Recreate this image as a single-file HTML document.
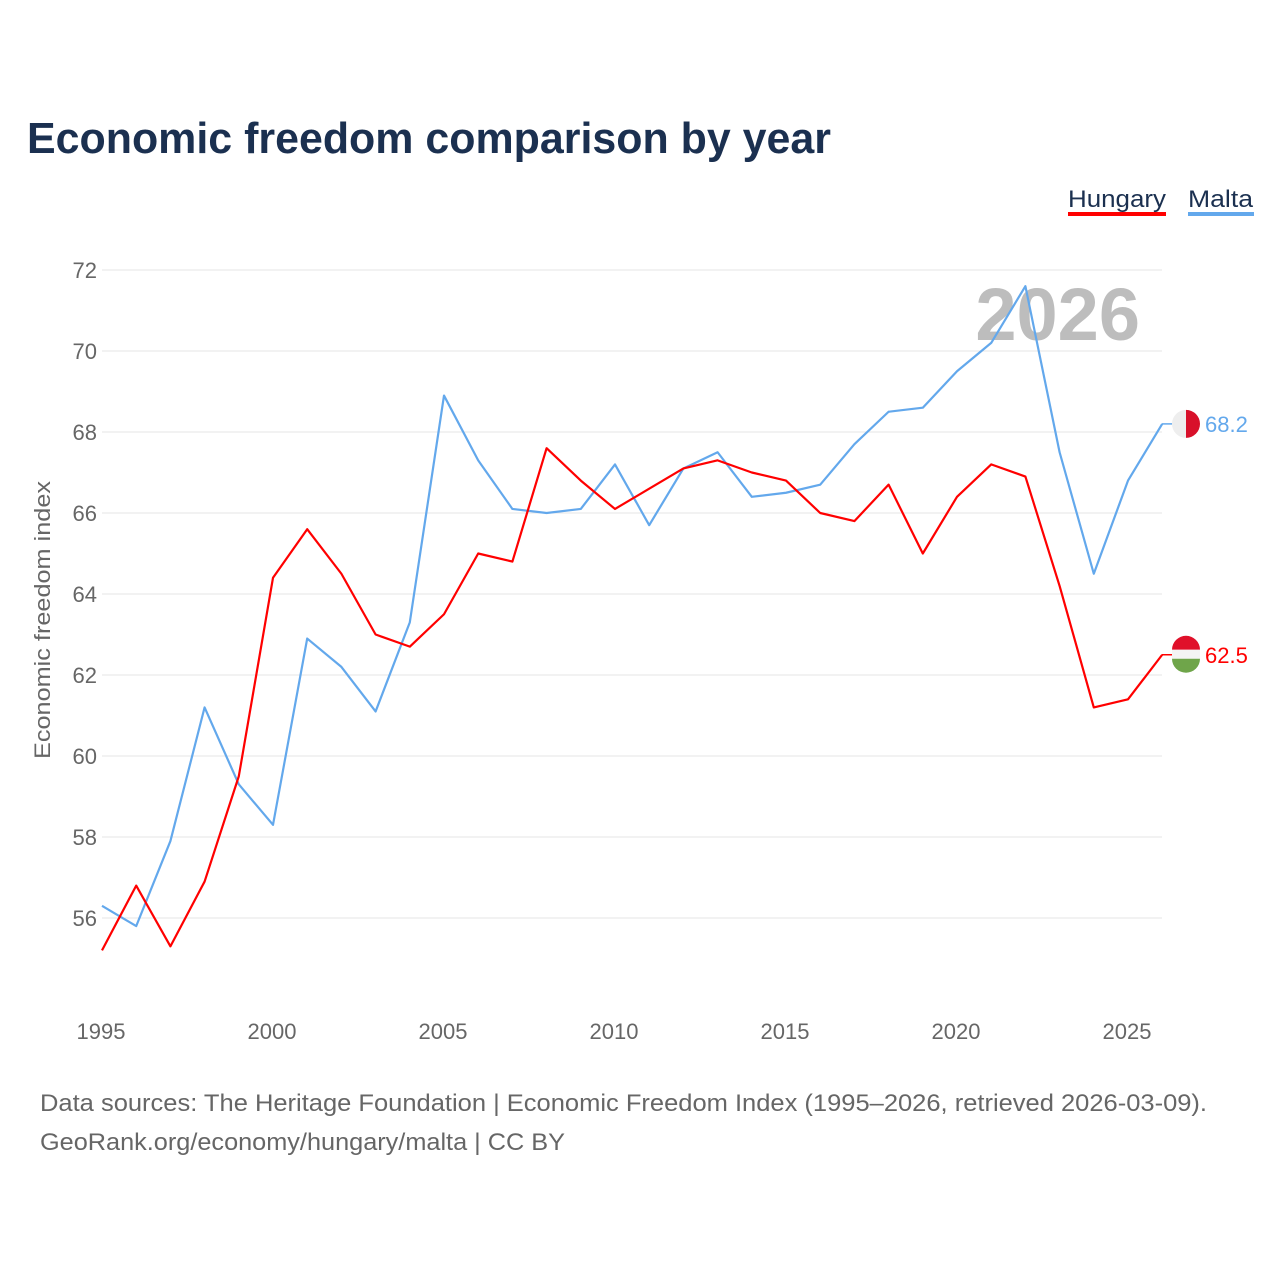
<!DOCTYPE html>
<html><head><meta charset="utf-8">
<style>
body{margin:0;background:#fff;font-family:"Liberation Sans",sans-serif;}
#wrap{position:relative;width:1280px;height:1280px;overflow:hidden;}
</style></head>
<body><div id="wrap">
<svg id="chart" width="1280" height="1280">
<text x="27" y="153" font-size="44" font-weight="bold" fill="#1b3050" textLength="804" lengthAdjust="spacingAndGlyphs">Economic freedom comparison by year</text>
<g>
<text x="1068" y="207" font-size="24" fill="#1b3050" textLength="98" lengthAdjust="spacingAndGlyphs">Hungary</text>
<rect x="1068" y="212" width="98" height="4" fill="#ff0000"/>
<text x="1188" y="207" font-size="24" fill="#1b3050" textLength="65" lengthAdjust="spacingAndGlyphs">Malta</text>
<rect x="1188" y="212" width="66" height="4" fill="#63a8ec"/>
</g>
<g id="grid"></g>
<g id="yticks"></g>
<g id="xticks"></g>
<text x="1140" y="340" text-anchor="end" font-size="74" font-weight="bold" fill="#bdbdbd">2026</text>
<text transform="translate(50,620) rotate(-90)" text-anchor="middle" font-size="22" fill="#666" textLength="278" lengthAdjust="spacingAndGlyphs">Economic freedom index</text>
<g id="series"></g>
<text x="40" y="1111" font-size="24" fill="#666" textLength="1167" lengthAdjust="spacingAndGlyphs">Data sources: The Heritage Foundation | Economic Freedom Index (1995–2026, retrieved 2026-03-09).</text>
<text x="40" y="1150" font-size="24" fill="#666" textLength="525" lengthAdjust="spacingAndGlyphs">GeoRank.org/economy/hungary/malta | CC BY</text>
</svg>
</div>
<script>
const years=[1995,1996,1997,1998,1999,2000,2001,2002,2003,2004,2005,2006,2007,2008,2009,2010,2011,2012,2013,2014,2015,2016,2017,2018,2019,2020,2021,2022,2023,2024,2025,2026];
const hungary=[55.2,56.8,55.3,56.9,59.5,64.4,65.6,64.5,63.0,62.7,63.5,65.0,64.8,67.6,66.8,66.1,66.6,67.1,67.3,67.0,66.8,66.0,65.8,66.7,65.0,66.4,67.2,66.9,64.2,61.2,61.4,62.5];
const malta=[56.3,55.8,57.9,61.2,59.3,58.3,62.9,62.2,61.1,63.3,68.9,67.3,66.1,66.0,66.1,67.2,65.7,67.1,67.5,66.4,66.5,66.7,67.7,68.5,68.6,69.5,70.2,71.6,67.5,64.5,66.8,68.2];
const yTicks=[56,58,60,62,64,66,68,70,72];
const xTicks=[1995,2000,2005,2010,2015,2020,2025];
const NS="http://www.w3.org/2000/svg";
const X=v=>102+(v-1995)*34.2;
const Y=v=>270+(72-v)*40.5;
function mk(t,a,p){const e=document.createElementNS(NS,t);for(const k in a)e.setAttribute(k,a[k]);p.appendChild(e);return e;}
const grid=document.getElementById('grid'),yt=document.getElementById('yticks'),xt=document.getElementById('xticks'),ser=document.getElementById('series');
yTicks.forEach(v=>{
 const l=mk('line',{x1:102,x2:1162,y1:Y(v),y2:Y(v),stroke:'#e6e6e6','stroke-width':1},grid);
 
 
 const t=mk('text',{x:97,y:Y(v)+8,'text-anchor':'end','font-size':22,fill:'#666'},yt);t.textContent=v;
 
 
});
xTicks.forEach(v=>{
 const t=mk('text',{x:X(v)-1,y:1039,'text-anchor':'middle','font-size':22,fill:'#666'},xt);t.textContent=v;
 
 
});
function series(vals,color,name){
 const p=mk('polyline',{points:vals.map((v,i)=>X(years[i])+','+Y(v)).join(' '),fill:'none',stroke:color,'stroke-width':2.2,'stroke-linejoin':'round'},ser);
 
 
 const last=vals[vals.length-1],ly=Y(last);
 mk('line',{x1:1162,x2:1172,y1:ly,y2:ly,stroke:color,'stroke-width':1.5},ser);
 const g=mk('g',{},ser);
 
 
 if(name==='hungary'){
  mk('path',{d:`M1172,${ly-5} a14,14 0 0 1 28,0 z`,fill:'#e0102a'},g);
  mk('rect',{x:1172,y:ly-5,width:28,height:9,fill:'#f4f4f4'},g);
  mk('path',{d:`M1172,${ly+4} a14,14 0 0 0 28,0 z`,fill:'#6fa54a'},g);
 }else{
  mk('path',{d:`M1186,${ly-14} a14,14 0 0 0 0,28 z`,fill:'#eeeeee'},g);
  mk('path',{d:`M1186,${ly-14} a14,14 0 0 1 0,28 z`,fill:'#d8102a'},g);
 }
 const t=mk('text',{x:1205,y:ly+8,'font-size':22,fill:color},ser);t.textContent=last.toFixed(1);
 
 
}
series(malta,'#63a8ec','malta');
series(hungary,'#ff0000','hungary');
</script>
</body></html>
